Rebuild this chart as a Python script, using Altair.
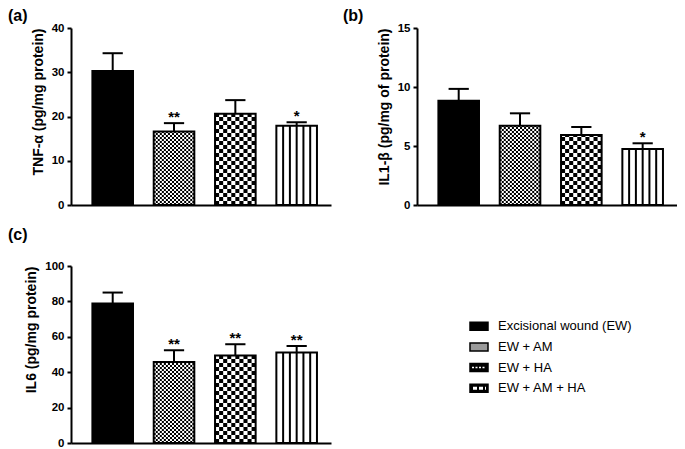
import altair as alt
import pandas as pd

# ---------------- data ----------------
categories = ["Excisional wound (EW)", "EW + AM", "EW + HA", "EW + AM + HA"]
patterns = ["solid", "dense", "checker", "stripes"]

tnf_mean = [30.3, 16.6, 20.6, 17.9]
tnf_sem = [4.0, 1.9, 3.1, 0.8]
tnf_sig = ["", "**", "", "*"]

il1_mean = [8.84, 6.72, 5.93, 4.75]
il1_sem = [1.0, 1.05, 0.68, 0.48]
il1_sig = ["", "", "", "*"]

il6_mean = [78.8, 45.8, 49.5, 51.1]
il6_sem = [6.2, 6.6, 6.3, 3.7]
il6_sig = ["", "**", "**", "**"]

# ---------------- style ----------------
FONT = "Liberation Sans"
HW = 0.331            # half bar width (x units)
CAP = 0.165           # half error-cap width (x units)
X_DOMAIN = [0.32, 4.56]
PATTERN_COLS = {"dense": 20, "checker": 10, "stripes": 6}
BAR_FILL = {"solid": "black", "dense": "white", "checker": "white", "stripes": "white"}
SYM_FILL = {"solid": "black", "dense": "#9a9a9a", "checker": "black", "stripes": "black"}
NO_VIEW = alt.ViewBackground(stroke="transparent", strokeWidth=0)


def bar_table(means, sems, sigs):
    return pd.DataFrame({
        "cat": categories,
        "pattern": patterns,
        "fillc": [BAR_FILL[p] for p in patterns],
        "pos": list(range(1, len(categories) + 1)),
        "mean": means,
        "top": [m + s for m, s in zip(means, sems)],
        "sig": sigs,
        "zero": 0.0,
    })


def pattern_table(means):
    rows = []
    for i, (c, p, m) in enumerate(zip(categories, patterns, means)):
        if p == "solid":
            continue
        n = PATTERN_COLS[p]
        if p == "stripes":
            js = list(range(1, n))
            fr = [j / n for j in js]
        else:
            js = list(range(n))
            fr = [(j + 0.5) / n for j in js]
        for j, f in zip(js, fr):
            rows.append({"cat": c, "kind": p, "odd": j % 2,
                         "px": i + 1 - HW + 2 * HW * f, "zero": 0.0, "mean": m})
    return pd.DataFrame(rows)


def panel(means, sems, sigs, ymax, step, ytitle, label, title_dx, title_offset):
    bars = bar_table(means, sems, sigs)
    pat = pattern_table(means)
    ys = alt.Scale(domain=[0, ymax], nice=False, zero=True)
    yax = alt.Axis(values=list(range(0, ymax + 1, step)), grid=False,
                   domainColor="black", domainWidth=2, tickColor="black",
                   tickWidth=2, tickSize=4, labelFont=FONT, labelFontSize=11.5,
                   labelFontWeight="bold", labelColor="black", labelPadding=3,
                   labelFlush=False, titleFont=FONT, titleFontSize=14,
                   titleFontWeight="bold", titleColor="black", titlePadding=6,
                   titleAnchor="end")
    xs = alt.Scale(domain=X_DOMAIN, nice=False, zero=False)
    xax = alt.Axis(labels=False, ticks=False, grid=False, domainColor="black",
                   domainWidth=2, title=None)

    def X(f):
        return alt.X(f, type="quantitative", scale=xs, axis=xax, title=None)

    def Y(f):
        return alt.Y(f, type="quantitative", scale=ys, axis=yax, title=ytitle)

    base = alt.Chart(bars).transform_calculate(
        x0=f"datum.pos - {HW}", x1=f"datum.pos + {HW}",
        c0=f"datum.pos - {CAP}", c1=f"datum.pos + {CAP}")

    fill = base.mark_rect().encode(
        x=X("x0"), x2="x1", y=Y("mean"), y2="zero",
        fill=alt.Fill("fillc:N", scale=None, legend=None))

    def rules(kind, odd, width, dash=None, offset=0):
        kw = dict(color="black", strokeWidth=width, strokeCap="butt")
        if dash:
            kw["strokeDash"] = dash
            kw["strokeDashOffset"] = offset
        return alt.Chart(pat).transform_filter(
            f"datum.kind == '{kind}'" + ("" if odd is None else f" && datum.odd == {odd}")
        ).mark_rule(**kw).encode(x=X("px"), y=Y("zero"), y2="mean")

    pats = [
        rules("dense", 0, 2.03, [2, 2], 0),
        rules("dense", 1, 2.03, [2, 2], 2),
        rules("checker", 0, 4.05, [4, 4], 0),
        rules("checker", 1, 4.05, [4, 4], 4),
        rules("stripes", None, 2),
    ]

    outline = base.mark_rect(fillOpacity=0, stroke="black", strokeWidth=2).encode(
        x=X("x0"), x2="x1", y=Y("mean"), y2="zero")
    stems = base.mark_rule(color="black", strokeWidth=2).encode(
        x=X("pos"), y=Y("mean"), y2="top")
    caps = base.mark_rule(color="black", strokeWidth=2).encode(
        x=X("c0"), x2="c1", y=Y("top"))
    sig = base.mark_text(font=FONT, fontSize=15, fontWeight="bold", baseline="alphabetic",
                         dy=-1, color="black").encode(x=X("pos"), y=Y("top"), text="sig:N")

    return alt.layer(fill, *pats, outline, stems, caps, sig).properties(
        width=260, height=177, view=NO_VIEW,
        title=alt.TitleParams(label, anchor="start", frame="group", dx=title_dx,
                              offset=title_offset, fontSize=16, fontWeight="bold",
                              font=FONT, color="black"))


a = panel(tnf_mean, tnf_sem, tnf_sig, 40, 10, "TNF-\u03b1 (pg/mg protein)", "(a)", -63, -2)
b = panel(il1_mean, il1_sem, il1_sig, 15, 5, "IL1-\u03b2 (pg/mg of protein)", "(b)", -74, -2)
c = panel(il6_mean, il6_sem, il6_sig, 100, 20, "IL6 (pg/mg protein)", "(c)", -63, 17)

# ---------------- legend ----------------
leg_df = pd.DataFrame({"cat": categories, "pattern": patterns,
                       "symfill": [SYM_FILL[p] for p in patterns]})
ly = alt.Y("cat:N", sort=categories, axis=None,
           scale=alt.Scale(domain=categories, range=[50, 132.5], paddingInner=0, paddingOuter=0))
leg_base = alt.Chart(leg_df)
sym = leg_base.mark_bar(height=8, stroke="black", strokeWidth=1.5).encode(
    y=ly, x=alt.value(127), x2=alt.value(145),
    fill=alt.Fill("symfill:N", scale=None, legend=None))
sym_ha = leg_base.transform_filter("datum.pattern == 'checker'").mark_rule(
    color="white", strokeWidth=1.5, strokeDash=[2, 1.5]).encode(
    y=ly, x=alt.value(129), x2=alt.value(143))
sym_st = leg_base.transform_filter("datum.pattern == 'stripes'").mark_rule(
    color="white", strokeWidth=3, strokeDash=[4, 2]).encode(
    y=ly, x=alt.value(130), x2=alt.value(143))
txt = leg_base.mark_text(align="left", baseline="middle", font=FONT, fontSize=13,
                         color="black").encode(y=ly, x=alt.value(155), text="cat:N")
legend = alt.layer(sym, sym_ha, sym_st, txt).properties(width=300, height=177, view=NO_VIEW)

row1 = alt.hconcat(a, b, spacing=12)
row2 = alt.hconcat(c, legend, spacing=12)
chart = alt.vconcat(row1, row2, spacing=16).properties(padding=0).configure_view(
    strokeWidth=0, stroke="transparent").configure(font=FONT)

chart.save("out.html", embed_options={"renderer": "svg", "actions": False})
